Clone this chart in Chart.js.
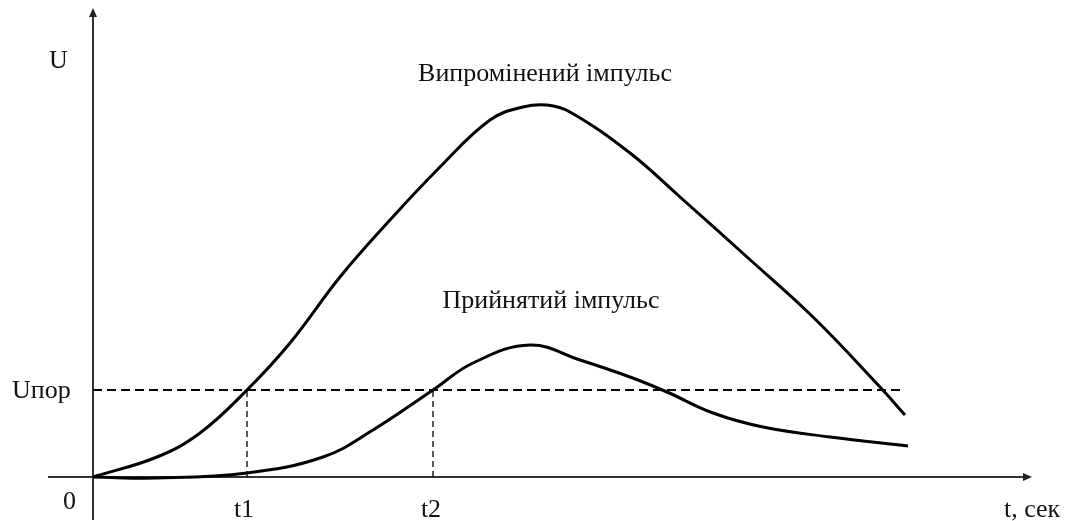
<!DOCTYPE html>
<html>
<head>
<meta charset="utf-8">
<script src="https://cdn.jsdelivr.net/npm/chart.js@4"></script>
<style>
  html, body { margin: 0; padding: 0; background: #fff; }
  #wrap { width: 1073px; height: 521px; }
</style>
</head>
<body>
<div id="wrap"><canvas id="pulseChart" width="1073" height="521"></canvas></div>
<script>
// values (t in arbitrary units, U in arbitrary units)
const emittedT = [0, 64, 107, 154, 197, 247, 297, 347, 397, 430, 454, 477, 537, 587, 654, 720, 787, 812];
const emittedU = [0, 20, 44, 87, 134, 200, 257, 310, 357, 370, 372, 365, 324, 280, 220, 160, 90, 62];

const receivedT = [0, 64, 154, 230, 280, 340, 380, 437, 487, 537, 574, 620, 670, 737, 815];
const receivedU = [0, -1, 4, 20, 47, 87, 114, 132, 117, 100, 85, 64, 50, 40, 31];

const uThreshold = 87;
const thresholdEndT = 807;
const t1 = 154;
const t2 = 340;

const tMax = 937;
const uMax = 467;

const font = '26px "Liberation Serif", "DejaVu Serif", serif';

function toPoints(xs, ys) {
    return xs.map((x, i) => ({ x: x, y: ys[i] }));
}

// axes with arrows + text labels
const axesPlugin = {
    id: 'axesPlugin',
    beforeDatasetsDraw(chart) {
        const ctx = chart.ctx;
        const xs = chart.scales.x, ys = chart.scales.y;
        const x0 = xs.getPixelForValue(0), y0 = ys.getPixelForValue(0);
        const xEnd = xs.getPixelForValue(tMax), yTop = ys.getPixelForValue(uMax);
        ctx.save();
        ctx.strokeStyle = '#333';
        ctx.fillStyle = '#222';
        ctx.lineWidth = 2;
        ctx.beginPath();
        ctx.moveTo(48, y0); ctx.lineTo(xEnd - 2, y0);
        ctx.moveTo(x0, 520); ctx.lineTo(x0, yTop + 2);
        ctx.stroke();
        // arrow heads
        ctx.beginPath();
        ctx.moveTo(xEnd + 2, y0); ctx.lineTo(xEnd - 7, y0 - 4); ctx.lineTo(xEnd - 7, y0 + 4); ctx.closePath();
        ctx.fill();
        ctx.beginPath();
        ctx.moveTo(x0, yTop - 2); ctx.lineTo(x0 - 4, yTop + 7); ctx.lineTo(x0 + 4, yTop + 7); ctx.closePath();
        ctx.fill();
        ctx.restore();
    },
    afterDraw(chart) {
        const ctx = chart.ctx;
        const xs = chart.scales.x, ys = chart.scales.y;
        ctx.save();
        ctx.fillStyle = '#111';
        ctx.font = font;
        ctx.textBaseline = 'alphabetic';
        ctx.textAlign = 'left';
        ctx.fillText('U', 49, 68);
        ctx.fillText('Uпор', 12, ys.getPixelForValue(uThreshold) + 8);
        ctx.fillText('0', 63, 509);
        ctx.textAlign = 'center';
        ctx.fillText('t1', xs.getPixelForValue(t1) - 3, 517);
        ctx.fillText('t2', xs.getPixelForValue(t2) - 2, 517);
        ctx.fillText('Випромінений імпульс', 545, 81);
        ctx.fillText('Прийнятий імпульс', 551, 308);
        ctx.textAlign = 'left';
        ctx.fillText('t, сек', 1004, 517);
        ctx.restore();
    }
};

const ctx = document.getElementById('pulseChart').getContext('2d');
new Chart(ctx, {
    type: 'line',
    data: {
        datasets: [
            {
                label: 'Випромінений імпульс',
                data: toPoints(emittedT, emittedU),
                borderColor: '#000',
                borderWidth: 3,
                pointRadius: 0,
                tension: 0.4
            },
            {
                label: 'Прийнятий імпульс',
                data: toPoints(receivedT, receivedU),
                borderColor: '#000',
                borderWidth: 3,
                pointRadius: 0,
                tension: 0.4
            },
            {
                label: 'Uпор',
                data: [{ x: 0, y: uThreshold }, { x: thresholdEndT, y: uThreshold }],
                borderColor: '#000',
                borderWidth: 2,
                borderDash: [9, 5],
                pointRadius: 0
            },
            {
                label: 't1',
                data: [{ x: t1, y: 0 }, { x: t1, y: uThreshold }],
                borderColor: '#000',
                borderWidth: 1.3,
                borderDash: [6, 4],
                pointRadius: 0
            },
            {
                label: 't2',
                data: [{ x: t2, y: 0 }, { x: t2, y: uThreshold }],
                borderColor: '#000',
                borderWidth: 1.3,
                borderDash: [6, 4],
                pointRadius: 0
            }
        ]
    },
    options: {
        responsive: false,
        animation: false,
        layout: { padding: { left: 93, right: 43, top: 10, bottom: 44 } },
        scales: {
            x: { type: 'linear', min: 0, max: tMax, display: false },
            y: { type: 'linear', min: 0, max: uMax, display: false }
        },
        plugins: {
            legend: { display: false },
            tooltip: { enabled: false }
        },
        clip: false
    },
    plugins: [axesPlugin]
});
</script>
</body>
</html>
